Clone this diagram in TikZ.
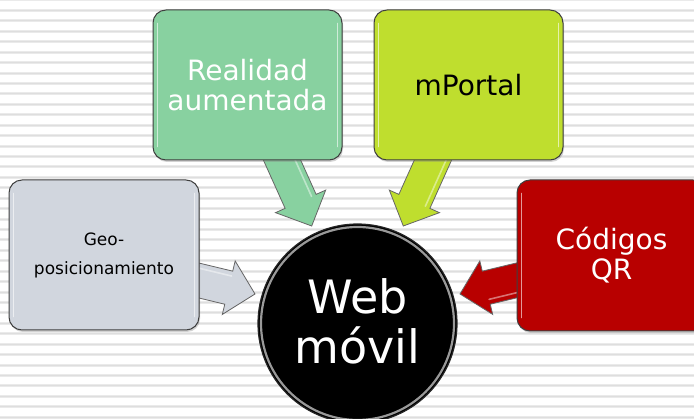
\documentclass[tikz,border=0pt]{standalone}
\usepackage{fontspec}
\setmainfont{DejaVu Sans}
\usetikzlibrary{calc,shadows}
\definecolor{cGreen}{HTML}{88D1A0}
\definecolor{cLime}{HTML}{BFDE2E}
\definecolor{cGray}{HTML}{D1D6DE}
\definecolor{cRed}{HTML}{B80000}
\definecolor{cStripe}{HTML}{EAEAEA}
\definecolor{cStripeDark}{HTML}{DEDEDE}
\definecolor{cEdge}{HTML}{3F3F3F}
\tikzset{
  card/.style={rectangle, rounded corners=13pt, draw=cEdge, line width=1pt,
    minimum width=189pt, minimum height=150pt, inner sep=0pt, align=center,
    drop shadow={shadow xshift=1pt, shadow yshift=-2pt, opacity=0.35}},
  bigtext/.style={font=\fontsize{28}{30}\selectfont},
  smalltext/.style={font=\fontsize{17}{29}\selectfont},
  arrowbody/.style={draw=black!60, line width=0.8pt, line join=miter},
  shine/.style={draw=white, opacity=0.6, line width=1.6pt, line cap=round},
}
\newcommand{\blockarrow}[4]{%
  \coordinate (#1b) at ($(#3)!27pt!(#2)$);
  \path[arrowbody,#4] ($(#2)!17pt!90:(#3)$) -- ($(#1b)!17pt!90:(#3)$)
    -- ($(#1b)!27.5pt!90:(#3)$) -- (#3) -- ($(#1b)!27.5pt!-90:(#3)$)
    -- ($(#1b)!17pt!-90:(#3)$) -- ($(#2)!17pt!-90:(#3)$) -- cycle;
  \draw[shine, opacity=0.45] ($(#2)!12pt!90:(#3)$) -- ($(#1b)!12pt!90:(#3)$);
}
\newcommand{\cardshine}[1]{%
  \draw[shine] ($(#1.north west)+(5,14)$) -- ($(#1.south west)+(5,-14)$);
  \draw[shine] ($(#1.north east)+(-5,14)$) -- ($(#1.south east)+(-5,-14)$);
}
\begin{document}
\begin{tikzpicture}[x=1pt,y=-1pt]
\useasboundingbox (0,0) rectangle (694,419);
\clip (0,0) rectangle (694,419);
\fill[white] (0,0) rectangle (694,419);
% background stripes
\foreach \i in {0,...,40} {
  \draw[cStripe, line width=3pt] (0,\i*10.43) -- (694,\i*10.43);
  \draw[cStripeDark, line width=1pt] (0,\i*10.43) -- (694,\i*10.43);
}
% connector coordinates
\coordinate (gS) at (277.5,150);
\coordinate (gT) at (311.7,226);
\coordinate (lS) at (437.5,150);
\coordinate (lT) at (403.3,226);
\coordinate (yS) at (189.3,278.2);
\coordinate (yT) at (255,294);
\coordinate (rS) at (525.7,278.2);
\coordinate (rT) at (460,294);
% block arrows
\blockarrow{g}{gS}{gT}{fill=cGreen}
\blockarrow{l}{lS}{lT}{fill=cLime}
\blockarrow{y}{yS}{yT}{fill=cGray}
\blockarrow{r}{rS}{rT}{fill=cRed}
% cards
\node[card, fill=cGreen, text=white, bigtext] (real) at (247.5,85) {Realidad\\aumentada};
\cardshine{real}
\node[card, fill=cLime, text=black, bigtext] (mportal) at (468.5,85) {mPortal};
\cardshine{mportal}
\node[card, fill=cGray, text=black, smalltext, minimum width=190pt] (geo) at (104,255) {Geo-\\posicionamiento};
\cardshine{geo}
\node[card, fill=cRed, text=white, bigtext, minimum height=151pt] (qr) at (611.5,255.5) {Códigos\\QR};
\cardshine{qr}
% central circle
\node[circle, minimum size=199pt, inner sep=0pt, fill=black, draw=black!85, line width=1.2pt,
  text=white, font=\fontsize{46}{50}\selectfont, align=center] (web) at (357.5,323.5)
  {Web\\móvil\rule[-5pt]{0pt}{5pt}};
\draw[gray!80, line width=2.2pt] (web.center) circle[radius=96.5pt];
\end{tikzpicture}
\end{document}
